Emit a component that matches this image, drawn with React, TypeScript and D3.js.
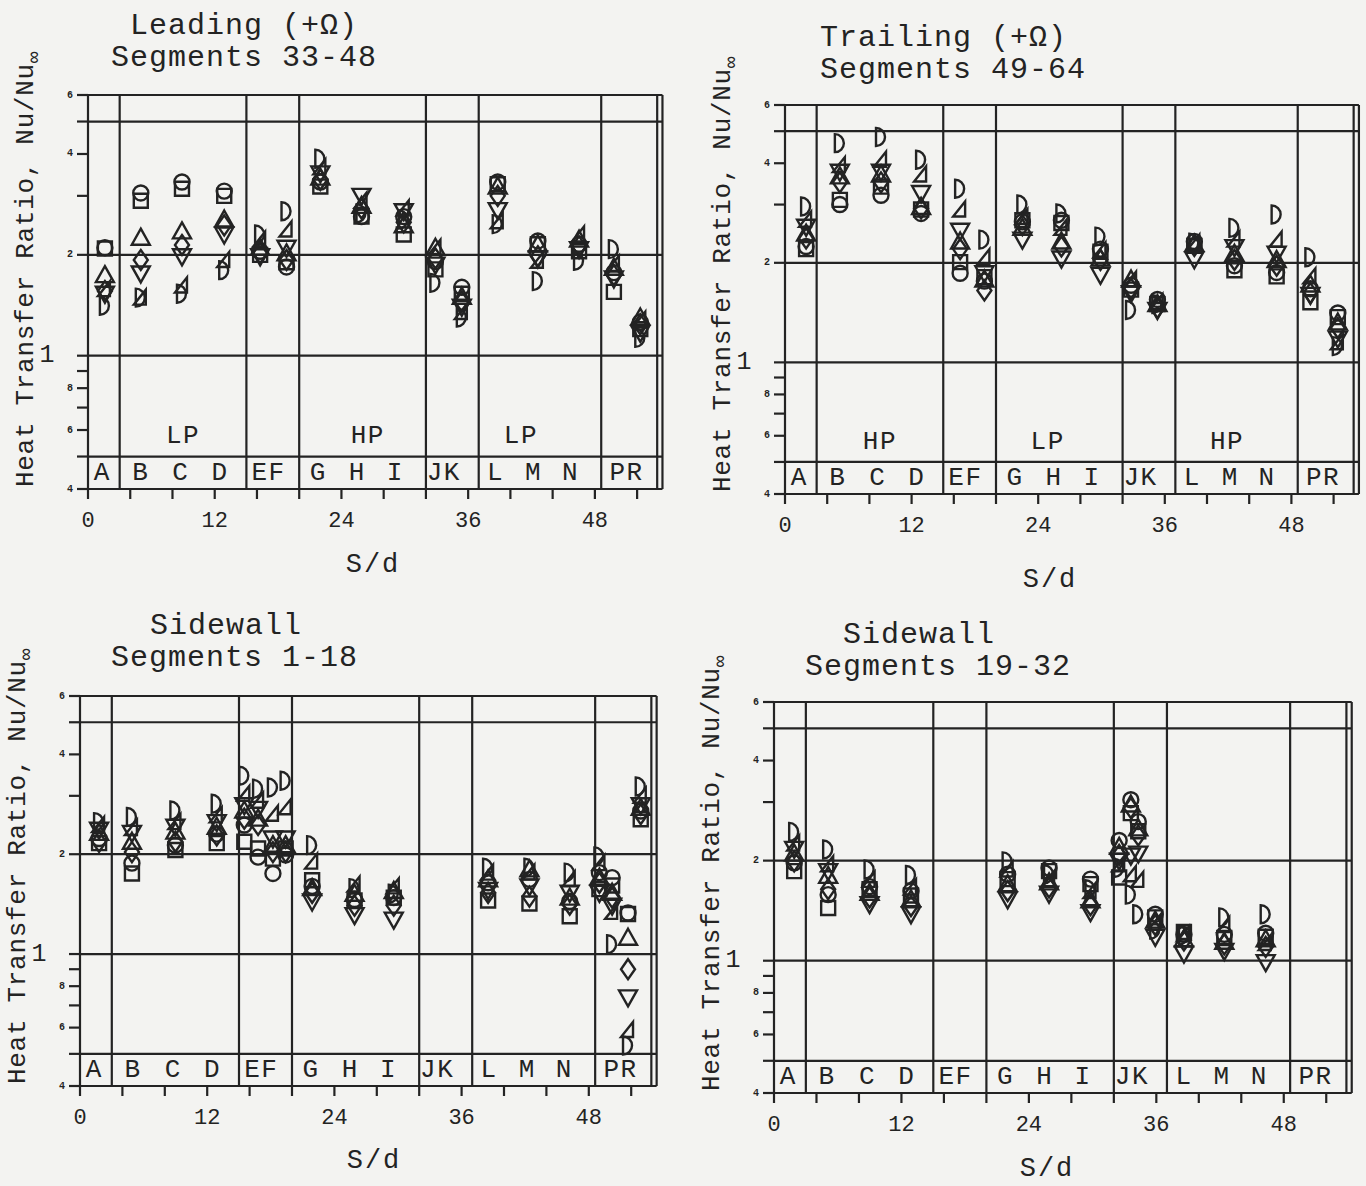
import React from 'react';
import * as d3 from 'd3';

// S/d positions of the plotted segments, one array per panel
const leadX = [1.6, 5.0, 8.9, 12.9, 16.3, 18.8, 22.0, 25.9, 29.9, 32.9, 35.4, 38.8, 42.6, 46.5, 49.8, 52.3];
const trailX = [2.0, 5.2, 9.1, 12.9, 16.6, 18.9, 22.5, 26.2, 29.9, 32.8, 35.3, 38.8, 42.6, 46.6, 49.8, 52.4];
const side1X = [1.8, 4.9, 9.0, 12.9, 15.5, 16.8, 18.2, 19.4, 21.9, 25.9, 29.6, 38.5, 42.4, 46.2, 49.0, 50.2, 51.7, 52.9];
const side2X = [1.9, 5.1, 9.0, 12.9, 22.0, 25.9, 29.8, 32.5, 33.6, 34.3, 35.9, 38.6, 42.4, 46.3];

// Nu/Nu_inf per symbol: square, circle, triangle up, diamond, triangle down, half triangle, half circle
const leadSq = [2.09, 2.9, 3.15, 3.0, 2.0, 1.9, 3.2, 2.6, 2.3, 1.81, 1.53, 3.25, 2.15, 2.05, 1.55, 1.2];
const leadCi = [2.1, 3.06, 3.3, 3.1, 2.05, 1.84, 3.3, 2.6, 2.6, 1.91, 1.6, 3.3, 2.2, 2.15, 1.77, 1.26];
const leadTu = [1.74, 2.25, 2.35, 2.55, 2.1, 2.02, 3.4, 2.8, 2.45, 2.1, 1.5, 3.2, 2.15, 2.22, 1.83, 1.3];
const leadDi = [1.56, 1.93, 2.14, 2.45, 2.02, 1.93, 3.35, 2.75, 2.5, 1.95, 1.45, 3.0, 1.98, 2.12, 1.74, 1.24];
const leadTd = [1.53, 1.76, 1.98, 2.3, 1.98, 2.1, 3.5, 3.0, 2.7, 1.87, 1.4, 2.72, 1.95, 2.08, 1.7, 1.17];
const leadHt = [1.58, 1.49, 1.62, 1.93, 2.22, 2.38, 3.65, 2.9, 2.75, 2.1, 1.35, 2.52, 1.92, 2.3, 1.88, 1.28];
const leadHc = [1.41, 1.49, 1.53, 1.8, 2.3, 2.7, 3.87, 2.66, 2.55, 1.65, 1.3, 2.47, 1.67, 1.92, 2.08, 1.13];

const trailSq = [2.2, 3.1, 3.4, 2.9, 2.01, 1.81, 2.69, 2.64, 2.16, 1.66, 1.5, 2.25, 1.9, 1.82, 1.52, 1.37];
const trailCi = [2.24, 3.0, 3.2, 2.82, 1.86, 1.76, 2.66, 2.69, 2.2, 1.71, 1.55, 2.32, 1.96, 1.87, 1.67, 1.41];
const trailTu = [2.45, 3.65, 3.7, 2.95, 2.32, 1.78, 2.55, 2.32, 2.06, 1.78, 1.5, 2.28, 2.13, 2.04, 1.72, 1.32];
const trailDi = [2.37, 3.5, 3.5, 2.92, 2.2, 1.65, 2.6, 2.24, 2.04, 1.67, 1.46, 2.25, 2.04, 1.96, 1.62, 1.27];
const trailTd = [2.57, 3.77, 3.77, 3.25, 2.5, 1.86, 2.35, 2.06, 1.84, 1.62, 1.44, 2.05, 2.23, 2.13, 1.6, 1.18];
const trailHt = [2.7, 3.95, 4.1, 3.7, 2.9, 2.08, 2.75, 2.55, 2.18, 1.78, 1.52, 2.3, 2.35, 2.35, 1.82, 1.15];
const trailHc = [2.96, 4.6, 4.8, 4.1, 3.35, 2.35, 3.0, 2.82, 2.4, 1.44, 1.5, 2.3, 2.55, 2.8, 2.08, 1.12];

const side1Sq = [2.16, 1.75, 2.06, 2.16, 2.18, 2.08, 1.94, 2.08, 1.67, 1.45, 1.48, 1.45, 1.42, 1.3, 1.57, 1.61, 1.32, 2.55];
const side1Ci = [2.23, 1.88, 2.13, 2.3, 2.45, 1.96, 1.75, 1.99, 1.6, 1.46, 1.48, 1.64, 1.68, 1.44, 1.76, 1.7, 1.33, 2.7];
const side1Tu = [2.32, 2.18, 2.34, 2.42, 2.71, 2.56, 2.13, 2.13, 1.58, 1.52, 1.55, 1.68, 1.8, 1.48, 1.7, 1.53, 1.12, 2.76];
const side1Di = [2.18, 2.03, 2.18, 2.28, 2.56, 2.45, 2.03, 2.03, 1.53, 1.4, 1.4, 1.53, 1.49, 1.41, 1.64, 1.48, 0.9, 2.64];
const side1Td = [2.37, 2.32, 2.42, 2.5, 2.81, 2.74, 2.23, 2.23, 1.44, 1.31, 1.27, 1.56, 1.6, 1.53, 1.53, 1.4, 0.74, 2.81];
const side1Ht = [2.45, 2.4, 2.5, 2.62, 3.04, 2.9, 2.65, 2.77, 1.9, 1.62, 1.6, 1.76, 1.76, 1.68, 1.88, 1.34, 0.59, 3.0];
const side1Hc = [2.5, 2.59, 2.71, 2.84, 3.45, 3.15, 3.18, 3.33, 2.13, 1.58, 1.52, 1.82, 1.82, 1.76, 1.97, 1.07, 0.53, 3.2];

const side2Sq = [1.86, 1.44, 1.64, 1.57, 1.76, 1.86, 1.7, 1.78, 2.78, 2.45, 1.35, 1.22, 1.17, 1.18];
const side2Ci = [1.97, 1.58, 1.67, 1.62, 1.82, 1.9, 1.76, 2.3, 3.05, 2.62, 1.38, 1.2, 1.2, 1.21];
const side2Tu = [2.1, 1.8, 1.6, 1.53, 1.7, 1.72, 1.52, 2.2, 2.95, 2.5, 1.32, 1.16, 1.14, 1.16];
const side2Di = [1.99, 1.64, 1.55, 1.46, 1.62, 1.66, 1.47, 2.08, 2.88, 2.38, 1.28, 1.15, 1.12, 1.1];
const side2Td = [2.17, 1.86, 1.48, 1.38, 1.53, 1.59, 1.4, 2.0, 2.07, 2.1, 1.18, 1.05, 1.07, 0.99];
const side2Ht = [2.25, 1.95, 1.75, 1.66, 1.88, 1.76, 1.62, 1.95, 1.82, 1.75, 1.3, 1.2, 1.28, 1.13];
const side2Hc = [2.44, 2.16, 1.88, 1.81, 1.99, 1.82, 1.64, 1.9, 1.58, 1.38, 1.24, 1.19, 1.35, 1.38];

// letter row under each plot
const letters = ['A', 'B', 'C', 'D', 'EF', 'G', 'H', 'I', 'JK', 'L', 'M', 'N', 'PR'];
const letterX = [1.35, 5.0, 8.8, 12.5, 17.1, 21.8, 25.5, 29.1, 33.7, 38.6, 42.2, 45.7, 51.0];
const boundaries = [3, 15, 20, 32, 37, 48.6];
const xTicks = [0, 4, 8, 12, 16, 20, 24, 28, 32, 36, 40, 44, 48, 52];
const xLabels = [0, 12, 24, 36, 48];
const yTicks = [0.4, 0.5, 0.6, 0.7, 0.8, 0.9, 1, 2, 3, 4, 5, 6];
const ySmallLabels = [6, 4, 2, 0.8, 0.6, 0.4];
const hLines = [6, 5, 2, 1, 0.5, 0.4];

const shapes = ['sq', 'ci', 'tu', 'di', 'td', 'ht', 'hc'];

const panels = [
  {
    title: ['Leading (+\u03a9)', 'Segments 33-48'], titleX: [130, 111], titleY: [34, 66],
    x0: 88, sx: 10.56, yTop: 95, yBot: 489, sdX: 373, sdY: 572,
    xs: leadX, series: [leadSq, leadCi, leadTu, leadDi, leadTd, leadHt, leadHc],
    regions: [['LP', 9], ['HP', 26.5], ['LP', 41]],
  },
  {
    title: ['Trailing (+\u03a9)', 'Segments 49-64'], titleX: [820, 820], titleY: [46, 78],
    x0: 785, sx: 10.55, yTop: 105, yBot: 494, sdX: 1050, sdY: 587,
    xs: trailX, series: [trailSq, trailCi, trailTu, trailDi, trailTd, trailHt, trailHc],
    regions: [['HP', 9], ['LP', 24.9], ['HP', 41.9]],
  },
  {
    title: ['Sidewall', 'Segments 1-18'], titleX: [150, 111], titleY: [634, 666],
    x0: 80, sx: 10.6, yTop: 696, yBot: 1086, sdX: 374, sdY: 1168,
    xs: side1X, series: [side1Sq, side1Ci, side1Tu, side1Di, side1Td, side1Ht, side1Hc],
    regions: [],
  },
  {
    title: ['Sidewall', 'Segments 19-32'], titleX: [843, 805], titleY: [643, 675],
    x0: 774, sx: 10.62, yTop: 702, yBot: 1093, sdX: 1047, sdY: 1176,
    xs: side2X, series: [side2Sq, side2Ci, side2Tu, side2Di, side2Td, side2Ht, side2Hc],
    regions: [],
  },
];

const INK = '#232323';
const FONT = '"Liberation Mono", "Courier New", monospace';

function markerPath(shape: string) {
  switch (shape) {
    case 'sq': return 'M-7,-7H7V7H-7Z';
    case 'tu': return 'M0,-9L9,7L-9,7Z';
    case 'td': return 'M0,9L9,-7L-9,-7Z';
    case 'di': return 'M0,-10L7,0L0,10L-7,0Z';
    case 'ht': return 'M5,-8L5,7L-7,7Z';
    case 'hc': return 'M-5,-9L-5,9A9,9 0 0 0 -5,-9Z';
    default: return '';
  }
}

function Panel({ p }: { p: any }) {
  const x = d3.scaleLinear().domain([0, 54.4]).range([p.x0, p.x0 + 54.4 * p.sx]);
  const y = d3.scaleLog().domain([0.4, 6]).range([p.yBot, p.yTop]);
  const xr = x(54.4);
  const rowY = y(0.447);

  return (
    <g>
      {p.title.map((t: string, i: number) => (
        <text key={'t' + i} x={p.titleX[i]} y={p.titleY[i]} fontSize={30} letterSpacing={1}>{t}</text>
      ))}

      {/* frame and grid */}
      {hLines.map((v) => (
        <line key={'h' + v} x1={x(0)} x2={xr} y1={y(v)} y2={y(v)} stroke={INK} strokeWidth={2.2} />
      ))}
      {[0, ...boundaries, 53.9, 54.4].map((v) => (
        <line key={'v' + v} x1={x(v)} x2={x(v)} y1={y(6)} y2={y(0.4)} stroke={INK} strokeWidth={2.2} />
      ))}

      {/* y axis */}
      {yTicks.map((v) => (
        <line key={'yt' + v} x1={x(0) - 11} x2={x(0)} y1={y(v)} y2={y(v)} stroke={INK} strokeWidth={2.2} />
      ))}
      {ySmallLabels.map((v) => (
        <text key={'yl' + v} x={x(0) - 18} y={y(v)} fontSize={10} fontWeight="bold"
          textAnchor="middle" dominantBaseline="central">{v < 1 ? String(Math.round(v * 10)) : String(v)}</text>
      ))}
      <text x={x(0) - 41} y={y(1)} fontSize={25} textAnchor="middle" dominantBaseline="central">1</text>
      <text transform={`translate(${x(0) - 55},${p.yBot - 2}) rotate(-90)`} fontSize={26} letterSpacing={0.7}>
        Heat Transfer Ratio, Nu/Nu<tspan dy={7} fontSize={20}>{'\u221e'}</tspan>
      </text>

      {/* x axis */}
      {xTicks.map((v) => (
        <line key={'xt' + v} x1={x(v)} x2={x(v)} y1={p.yBot} y2={p.yBot + 10} stroke={INK} strokeWidth={2.2} />
      ))}
      {xLabels.map((v) => (
        <text key={'xl' + v} x={x(v)} y={p.yBot + 38} fontSize={22} textAnchor="middle">{v}</text>
      ))}
      <text x={p.sdX} y={p.sdY} fontSize={27} letterSpacing={2} textAnchor="middle">S/d</text>

      {/* letter row and pressure regions */}
      {letters.map((l, i) => (
        <text key={'l' + l} x={x(letterX[i])} y={rowY} fontSize={26} letterSpacing={1.5}
          textAnchor="middle" dominantBaseline="central">{l}</text>
      ))}
      {p.regions.map((r: any, i: number) => (
        <text key={'r' + i} x={x(r[1])} y={y(0.575)} fontSize={26} letterSpacing={1.5}
          textAnchor="middle" dominantBaseline="central">{r[0]}</text>
      ))}

      {/* data symbols */}
      {p.series.map((vals: number[], s: number) => (
        <g key={'s' + s} fill="none" stroke={INK} strokeWidth={2.4}>
          {vals.map((v, i) => {
            const cx = x(p.xs[i]);
            const cy = y(v);
            return shapes[s] === 'ci'
              ? <circle key={i} cx={cx} cy={cy} r={7.5} />
              : <path key={i} d={markerPath(shapes[s])} transform={`translate(${cx},${cy})`} />;
          })}
        </g>
      ))}
    </g>
  );
}

export default function App() {
  return (
    <svg width={1366} height={1186} style={{ position: 'absolute', left: 0, top: 0 }}
      fontFamily={FONT} fill={INK}>
      <rect width={1366} height={1186} fill="#f3f3f1" />
      {panels.map((p, i) => <Panel key={i} p={p} />)}
    </svg>
  );
}
